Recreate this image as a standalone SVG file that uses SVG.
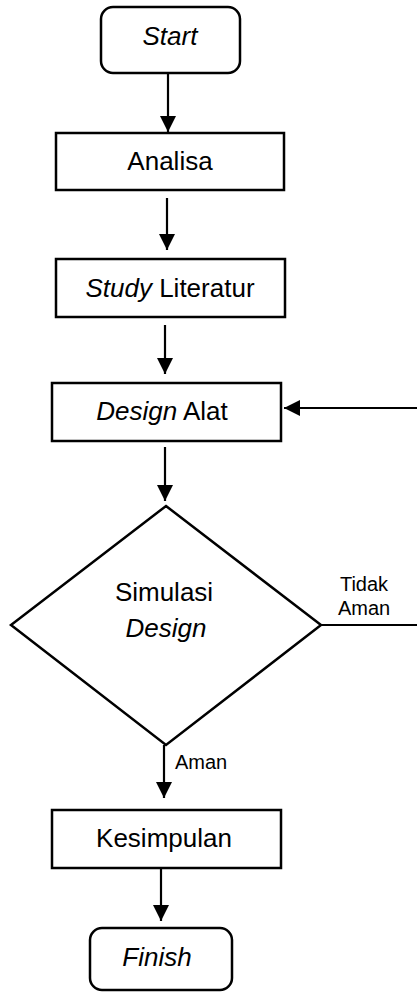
<svg xmlns="http://www.w3.org/2000/svg" width="417" height="992" viewBox="0 0 417 992">
<style>
.box{fill:#fff;stroke:#000;stroke-width:2.5}
.t{font-family:"Liberation Sans",Arial,sans-serif;font-size:26px;fill:#000;text-anchor:middle}
.i{font-style:italic}
.lbl{font-family:"Liberation Sans",Arial,sans-serif;font-size:20px;fill:#000;text-anchor:middle}
.c{fill:none;stroke:#000;stroke-width:2.2}
</style>
<defs>
<marker id="ah" markerUnits="userSpaceOnUse" markerWidth="16" markerHeight="18" viewBox="0 0 16 18" refX="16" refY="8" orient="auto">
<path d="M0,0 L16,8 L0,16 Z" fill="#000"/>
</marker>
</defs>
<g id="connectors">
<path class="c" d="M168,73 V132" marker-end="url(#ah)"/>
<path class="c" d="M167,198 V250" marker-end="url(#ah)"/>
<path class="c" d="M165,325 V374" marker-end="url(#ah)"/>
<path class="c" d="M165,447 V501" marker-end="url(#ah)"/>
<path class="c" d="M321,625 H420 V408 H284" marker-end="url(#ah)"/>
<path class="c" d="M164,745 V798" marker-end="url(#ah)"/>
<path class="c" d="M161,868 V921" marker-end="url(#ah)"/>
</g>
<g id="start">
<rect class="box" x="101" y="7" width="139" height="66" rx="12"/>
<text class="t i" x="170" y="45">Start</text>
</g>
<g id="analisa">
<rect class="box" x="56" y="133" width="228" height="57"/>
<text class="t" x="170" y="170">Analisa</text>
</g>
<g id="study">
<rect class="box" x="56" y="259" width="229" height="58"/>
<text class="t" x="170" y="297"><tspan class="i">Study</tspan> Literatur</text>
</g>
<g id="design">
<rect class="box" x="52" y="383" width="229" height="58"/>
<text class="t" x="162" y="420"><tspan class="i">Design</tspan> Alat</text>
</g>
<g id="simulasi">
<polygon class="box" points="166,506 321,625 166,745 11,625"/>
<text class="t" x="164" y="601">Simulasi</text>
<text class="t i" x="166" y="637">Design</text>
</g>
<g id="labels">
<text class="lbl" x="364" y="591">Tidak</text>
<text class="lbl" x="364" y="615">Aman</text>
<text class="lbl" x="201" y="769">Aman</text>
</g>
<g id="kesimpulan">
<rect class="box" x="52" y="810" width="229" height="58"/>
<text class="t" x="164" y="847">Kesimpulan</text>
</g>
<g id="finish">
<rect class="box" x="90" y="928" width="142" height="62" rx="12"/>
<text class="t i" x="157" y="966">Finish</text>
</g>
</svg>
